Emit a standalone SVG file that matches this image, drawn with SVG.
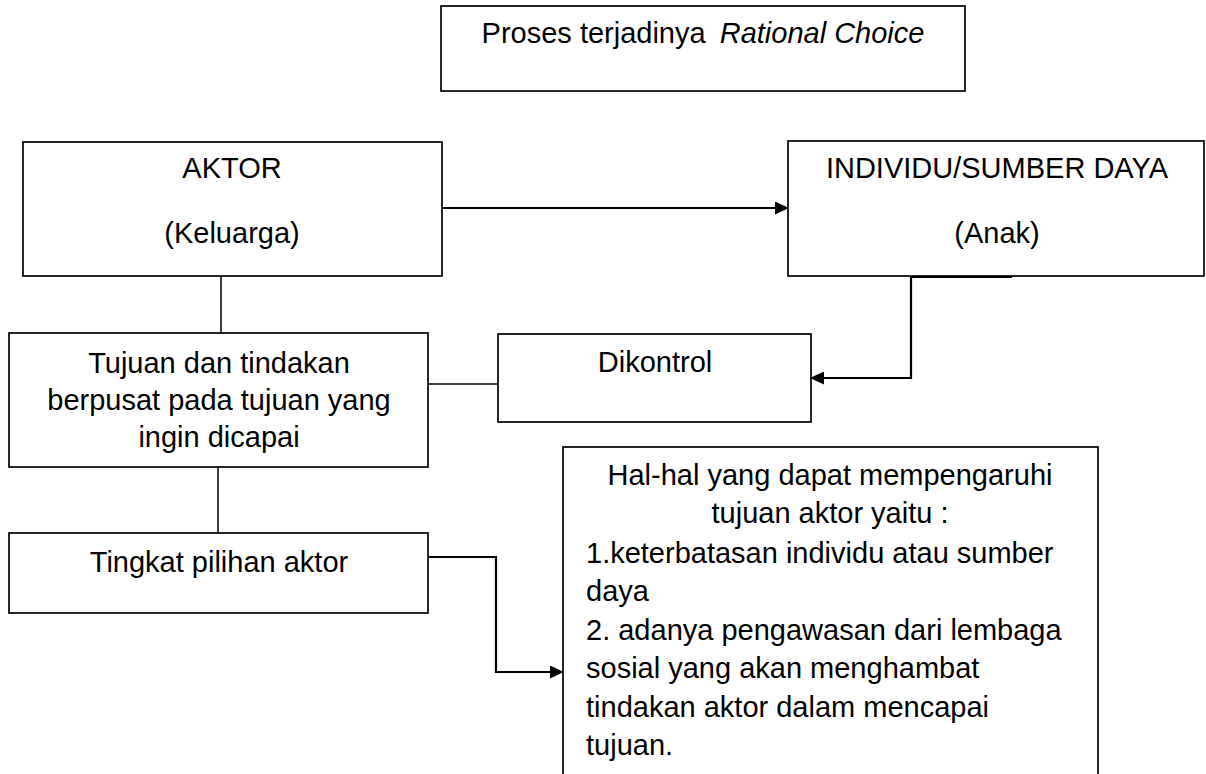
<svg xmlns="http://www.w3.org/2000/svg" width="1206" height="774" viewBox="0 0 1206 774">
<defs>
<style>
.box{fill:#fff;stroke:#000;stroke-width:1.7}
.t{font-family:"Liberation Sans",Arial,sans-serif;font-size:29px;fill:#000}
.c{text-anchor:middle}
.ln{fill:none;stroke:#000;stroke-width:1.5}
.ar{fill:none;stroke:#000;stroke-width:2.2;marker-end:url(#ah)}
</style>
<marker id="ah" markerUnits="userSpaceOnUse" markerWidth="14" markerHeight="13" refX="13" refY="6.5" orient="auto">
<path d="M0,0 L14,6.5 L0,13 z" fill="#000"/>
</marker>
</defs>
<rect width="1206" height="774" fill="#fff"/>
<g id="title">
<rect class="box" x="441" y="6" width="524" height="85"/>
<text class="t c" x="703" y="43">Proses terjadinya <tspan dx="6" font-style="italic">Rational Choice</tspan></text>
</g>
<g id="aktor">
<rect class="box" x="23" y="142" width="419" height="134"/>
<text class="t c" x="232" y="178">AKTOR</text>
<text class="t c" x="232" y="243">(Keluarga)</text>
</g>
<g id="individu">
<rect class="box" x="788" y="141" width="416" height="135"/>
<text class="t c" x="997" y="178">INDIVIDU/SUMBER DAYA</text>
<text class="t c" x="997" y="243">(Anak)</text>
</g>
<g id="tujuan">
<rect class="box" x="9" y="333" width="419" height="134"/>
<text class="t c" x="219" y="373">Tujuan dan tindakan</text>
<text class="t c" x="219" y="410">berpusat pada tujuan yang</text>
<text class="t c" x="219" y="447">ingin dicapai</text>
</g>
<g id="dikontrol">
<rect class="box" x="498" y="334" width="313" height="88"/>
<text class="t c" x="655" y="372">Dikontrol</text>
</g>
<g id="tingkat">
<rect class="box" x="9" y="533" width="419" height="80"/>
<text class="t c" x="219" y="572">Tingkat pilihan aktor</text>
</g>
<g id="hal">
<rect class="box" x="563" y="447" width="535" height="340"/>
<text class="t c" x="830" y="485">Hal-hal yang dapat mempengaruhi</text>
<text class="t c" x="830" y="523">tujuan aktor yaitu :</text>
<text class="t" x="586" y="563">1.keterbatasan individu atau sumber</text>
<text class="t" x="586" y="601">daya</text>
<text class="t" x="586" y="640">2. adanya pengawasan dari lembaga</text>
<text class="t" x="586" y="678">sosial yang akan menghambat</text>
<text class="t" x="586" y="717">tindakan aktor dalam mencapai</text>
<text class="t" x="586" y="755">tujuan.</text>
</g>
<g id="connectors">
<path class="ar" d="M442,208 H788"/>
<path class="ar" d="M1012,277 H911 V378 H811"/>
<path class="ln" d="M221,276 V333"/>
<path class="ln" d="M428,384 H498"/>
<path class="ln" d="M218,467 V533"/>
<path class="ar" d="M428,557 H496 V672 H563"/>
</g>
</svg>
